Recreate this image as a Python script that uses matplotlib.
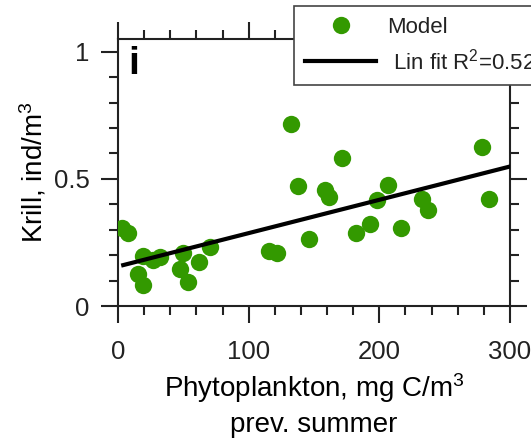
# Krill vs phytoplankton scatter with linear fit
# save to out.png

import matplotlib.pyplot as plt
from matplotlib.ticker import MultipleLocator
import numpy as np

# phytoplankton (mg C/m3, previous summer) and krill (ind/m3)
phyto = [2.8, 7.4, 15.6, 19.4, 19.4, 26.5, 32.1, 47.4, 50.0, 53.8,
         62.2, 70.4, 115.8, 121.9, 132.4, 138.0, 146.4, 158.4, 161.5, 171.2,
         182.2, 193.2, 198.5, 207.0, 216.7, 233.0, 237.6, 278.4, 284.0]
krill = [0.308, 0.286, 0.125, 0.083, 0.197, 0.181, 0.194, 0.144, 0.207, 0.096,
         0.172, 0.231, 0.217, 0.207, 0.715, 0.470, 0.265, 0.457, 0.428, 0.581,
         0.286, 0.321, 0.415, 0.476, 0.307, 0.421, 0.378, 0.625, 0.420]

# linear fit: slope, intercept and the x range it covers
fit_coef = [0.00131, 0.1556]
fit_range = [4, 300]

green = '#339900'

plt.rcParams['font.family'] = ['Liberation Sans', 'DejaVu Sans']
plt.rcParams['mathtext.fontset'] = 'custom'
plt.rcParams['mathtext.rm'] = 'Liberation Sans'
plt.rcParams['mathtext.it'] = 'Liberation Sans:italic'
plt.rcParams['text.color'] = '#222222'

fig = plt.figure(figsize=(5.31, 4.38), dpi=100)
ax = fig.add_axes([118 / 531, 1 - 306 / 438, 392 / 531, 267 / 438])

ax.plot(phyto, krill, 'o', color=green, markersize=12.5,
        markeredgewidth=0, label='Model', zorder=3)
fit_x = np.array(fit_range)
ax.plot(fit_x, np.polyval(fit_coef, fit_x), color='black', linewidth=3,
        label=' Lin fit R$^2$=0.52', zorder=4)

ax.set_xlim(0, 300)
ax.set_ylim(0, 1.05)
ax.xaxis.set_major_locator(MultipleLocator(100))
ax.xaxis.set_minor_locator(MultipleLocator(20))
ax.yaxis.set_minor_locator(MultipleLocator(0.1))
ax.set_yticks([0, 0.5, 1])
ax.set_yticklabels(['0', '0.5', '1'])

for s in ax.spines.values():
    s.set_linewidth(1.5)
    s.set_color('#222222')
ax.tick_params(which='both', direction='out', top=True, right=True,
               width=1.5, color='#222222', labelsize=18.5,
               labelcolor='#222222')
ax.tick_params(which='major', length=12.5)
ax.tick_params(which='minor', length=6.5)
ax.tick_params(axis='x', which='major', pad=12)
ax.tick_params(axis='y', which='major', pad=8)

ax.set_xlabel('Phytoplankton, mg C/m$^3$\nprev. summer', fontsize=20,
              labelpad=5, linespacing=1.36)
ax.set_ylabel('Krill, ind/m$^3$', fontsize=20, labelpad=4)

ax.text(0.026, 0.975, 'i', transform=ax.transAxes, fontsize=28,
        fontweight='bold', color='black', va='top', ha='left')

leg = fig.legend(loc='upper left', bbox_to_anchor=(294 / 531, 1 - 6 / 438),
                 fontsize=16, frameon=True, fancybox=False, framealpha=1,
                 edgecolor='#444444', borderpad=0.5, labelspacing=0.45,
                 handlelength=3.2, handletextpad=0.5, borderaxespad=0)
leg.get_frame().set_linewidth(1.2)

fig.savefig('out.png', dpi=100)
